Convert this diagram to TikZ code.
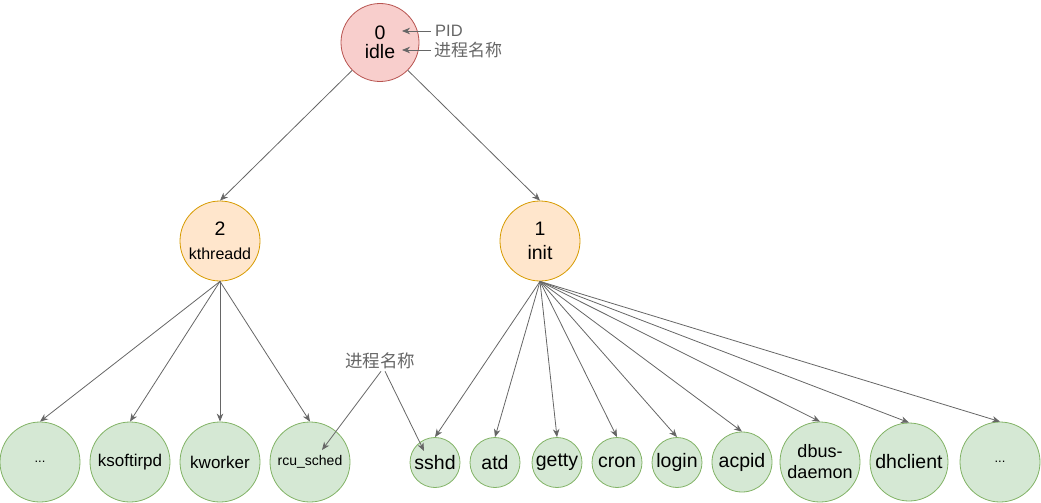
\documentclass[tikz,border=0pt]{standalone}
\usepackage{fontspec}
\setmainfont{Liberation Sans}
\newfontfamily\cjk{Noto Sans CJK SC}
\usetikzlibrary{arrows.meta,calc}
\definecolor{gfill}{HTML}{D5E8D4}
\definecolor{gline}{HTML}{82B366}
\definecolor{rfill}{HTML}{F8CECC}
\definecolor{rline}{HTML}{B85450}
\definecolor{ofill}{HTML}{FFE6CC}
\definecolor{oline}{HTML}{D79B00}
\definecolor{edgec}{HTML}{666666}
\definecolor{notec}{HTML}{666666}
\begin{document}
\begin{tikzpicture}[x=1pt,y=-1pt,
  proc/.style={circle,draw,line width=0.8pt,inner sep=0pt,align=center,text=black},
  leaf/.style={proc,fill=gfill,draw=gline},
  edge/.style={draw=edgec,line width=0.8pt,-{Stealth[length=8pt,width=6.5pt,inset=2.5pt]}},
  note/.style={text=notec,inner sep=0pt},
  big/.style={font=\fontsize{19.5}{19.5}\selectfont},
  mid/.style={font=\fontsize{17}{19}\selectfont},
  small/.style={font=\fontsize{14}{16}\selectfont},
  tiny/.style={font=\fontsize{13}{14}\selectfont}
]
\useasboundingbox (0,0) rectangle (1041,503);

% top level
\node[proc,fill=rfill,draw=rline,minimum size=78pt,big] (idle) at (380,42.5) {0\\idle};
\node[proc,fill=ofill,draw=oline,minimum size=80pt,big] (kth) at (220,241) {2\\[4pt]{\fontsize{16}{16}\selectfont kthreadd}};
\node[proc,fill=ofill,draw=oline,minimum size=80pt,big] (init) at (540,241) {1\\[5pt]init};

% leaves under kthreadd
\node[leaf,minimum size=80pt,tiny] (d1) at (40,462) {...};
\node[leaf,minimum size=80pt,mid] (ks) at (130,462) {ksoftirpd};
\node[leaf,minimum size=80pt,mid] (kw) at (220,462) {kworker};
\node[leaf,minimum size=80pt,small] (rcu) at (310,462) {rcu\_sched};

% leaves under init
\node[leaf,minimum size=50pt,big] (sshd) at (435,462.5) {sshd};
\node[leaf,minimum size=50pt,big] (atd) at (495,462.5) {atd};
\node[leaf,minimum size=50pt,big] (getty) at (557,462.5) {getty};
\node[leaf,minimum size=50pt,big] (cron) at (617,462.5) {cron};
\node[leaf,minimum size=50pt,big] (login) at (677,462.5) {login};
\node[leaf,minimum size=60pt,big] (acpid) at (742,462) {acpid};
\node[leaf,minimum size=80pt,font=\fontsize{18}{21}\selectfont] (dbus) at (820,462) {dbus-\\daemon};
\node[leaf,minimum size=78pt,big] (dhc) at (909,462) {dhclient};
\node[leaf,minimum size=80pt,tiny] (d2) at (1000,462) {...};

% edges
\draw[edge] (idle.225) -- (kth.north);
\draw[edge] (idle.-45) -- (init.north);
\foreach \c in {d1,ks,kw,rcu} \draw[edge] (kth.south) -- (\c.north);
\foreach \c in {sshd,atd,getty,cron,login,acpid,dbus,dhc,d2} \draw[edge] (init.south) -- (\c.north);

% notes at the top
\node[note,anchor=west,font=\fontsize{16.5}{19}\selectfont] (pid) at (435,31) {PID};
\node[note,anchor=west,font=\cjk\fontsize{17}{20}\selectfont] (pname) at (434,50) {进程名称};
\coordinate (pidt) at (402,31);
\coordinate (pnamet) at (402,50);
\draw[edge] ($(pid.west)+(-4,0)$) -- (pidt);
\draw[edge] ($(pname.west)+(-3,0)$) -- (pnamet);

% note at the bottom
\node[note,font=\cjk\fontsize{17.5}{20}\selectfont] (ann) at (380,361) {进程名称};
\coordinate (annr) at ($(rcu.center)+(12,-12)$);
\coordinate (anns) at ($(sshd.center)+(-11,-11.5)$);
\draw[edge] ($(ann.south)+(1,2)$) -- (annr);
\draw[edge] ($(ann.south)+(5,2)$) -- (anns);
\end{tikzpicture}
\end{document}
